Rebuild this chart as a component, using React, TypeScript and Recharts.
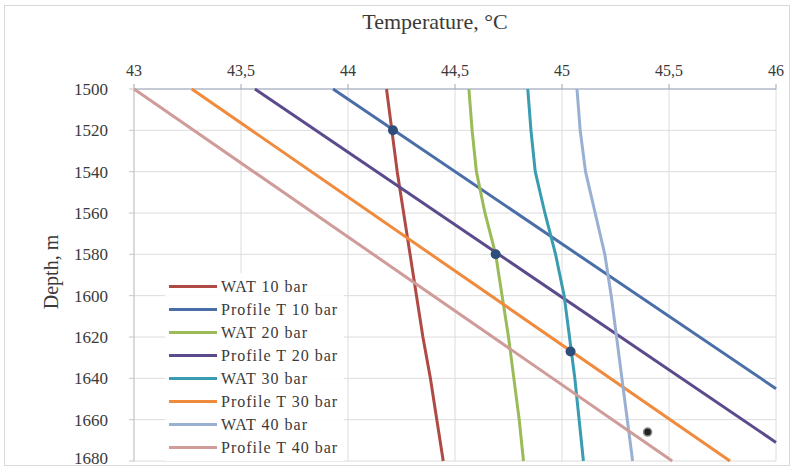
import { ScatterChart, Scatter, XAxis, YAxis, CartesianGrid, Legend } from 'recharts'

// depth grid for the WAT curves (m)
const depths = [1500, 1520, 1540, 1560, 1580, 1600, 1620, 1640, 1660, 1680]

// wax appearance temperature by depth, °C
const wat10 = [44.18, 44.205, 44.23, 44.26, 44.29, 44.32, 44.35, 44.385, 44.415, 44.445]
const wat20 = [44.565, 44.58, 44.6, 44.64, 44.69, 44.72, 44.75, 44.775, 44.8, 44.82]
const wat30 = [44.84, 44.855, 44.875, 44.92, 44.97, 45.01, 45.035, 45.06, 45.08, 45.1]
const wat40 = [45.07, 45.085, 45.11, 45.155, 45.2, 45.23, 45.255, 45.28, 45.305, 45.33]

// temperature profiles (straight lines: start and end where they leave the plot)
const profile10Depth = [1500, 1645]
const profile10T = [43.93, 46]
const profile20Depth = [1500, 1671]
const profile20T = [43.565, 46]
const profile30Depth = [1500, 1680]
const profile30T = [43.27, 45.785]
const profile40Depth = [1500, 1680]
const profile40T = [43.0, 45.515]

// intersection markers
const markerT = [44.21, 44.69, 45.04]
const markerDepth = [1520, 1580, 1627]
const loneMarkerT = [45.4]
const loneMarkerDepth = [1666]

const tempTicks = [43, 43.5, 44, 44.5, 45, 45.5, 46]
const depthTicks = [1500, 1520, 1540, 1560, 1580, 1600, 1620, 1640, 1660, 1680]

const toPoints = (d: number[], t: number[]) => d.map((depth, i) => ({ d: depth, t: t[i] }))

const series = [
  { name: 'WAT 10 bar', color: '#b04a45', data: toPoints(depths, wat10) },
  { name: 'Profile T 10 bar', color: '#4a6ea8', data: toPoints(profile10Depth, profile10T) },
  { name: 'WAT 20 bar', color: '#9bbb59', data: toPoints(depths, wat20) },
  { name: 'Profile T 20 bar', color: '#5c4b8c', data: toPoints(profile20Depth, profile20T) },
  { name: 'WAT 30 bar', color: '#3a9cb0', data: toPoints(depths, wat30) },
  { name: 'Profile T 30 bar', color: '#f08a3c', data: toPoints(profile30Depth, profile30T) },
  { name: 'WAT 40 bar', color: '#9ab0d2', data: toPoints(depths, wat40) },
  { name: 'Profile T 40 bar', color: '#cf9c9a', data: toPoints(profile40Depth, profile40T) },
]

// a quoted family list fell back to sans here, so keep it to one name
const font = 'Liberation Serif'
const textColor = '#3a3a3a'

function LegendBox() {
  return (
    <div style={{ background: 'rgba(255,255,255,0.9)', padding: '2px 6px 2px 4px', fontFamily: font }}>
      {series.map((s) => (
        <div key={s.name} style={{ display: 'flex', alignItems: 'center', height: 23 }}>
          <div style={{ width: 48, height: 3, background: s.color, marginRight: 4 }} />
          <span style={{ fontSize: 16, color: textColor, fontFamily: font, letterSpacing: 1 }}>{s.name}</span>
        </div>
      ))}
    </div>
  )
}

export default function App() {
  return (
    <div style={{ position: 'absolute', left: 0, top: 0, width: 794, height: 468, background: '#fff', fontFamily: font }}>
      <div
        style={{
          position: 'absolute',
          left: 4,
          top: 5,
          width: 784,
          height: 459,
          border: '1px solid #d9d9d9',
        }}
      />
      <ScatterChart width={794} height={468} margin={{ top: 0, right: 18, bottom: 7, left: 45 }}>
        <CartesianGrid stroke="#dcdcdc" verticalValues={tempTicks} horizontalValues={depthTicks} />
        <XAxis
          type="number"
          dataKey="t"
          orientation="top"
          height={89}
          domain={[43, 46]}
          ticks={tempTicks}
          tickFormatter={(v: number) => String(v).replace('.', ',')}
          tick={{ fontSize: 16, fill: textColor, fontFamily: font }}
          tickSize={5}
          tickMargin={8}
          stroke="#9aa8bf"
          label={{
            content: () => (
              <text x={435} y={29} textAnchor="middle" fontFamily={font} fontSize={22} fill={textColor}>
                Temperature, °C
              </text>
            ),
          }}
        />
        <YAxis
          type="number"
          dataKey="d"
          reversed
          width={89}
          domain={[1500, 1680]}
          ticks={depthTicks}
          tick={{ fontSize: 17, fill: textColor, fontFamily: font }}
          tickSize={5}
          tickMargin={21}
          stroke="#c8c8c8"
          label={{
            content: () => (
              <text
                x={53}
                y={272}
                transform="rotate(-90 53 272)"
                textAnchor="middle"
                dominantBaseline="middle"
                fontFamily={font}
                fontSize={20}
                fill={textColor}
              >
                Depth, m
              </text>
            ),
          }}
        />
        {series.map((s) => (
          <Scatter
            key={s.name}
            name={s.name}
            data={s.data}
            line={{ stroke: s.color, strokeWidth: 3 }}
            lineType="joint"
            shape={() => <g />}
            legendType="line"
            isAnimationActive={false}
          />
        ))}
        <Scatter
          name="markers"
          data={toPoints(markerDepth, markerT)}
          shape={(p: any) => <circle cx={p.cx} cy={p.cy} r={5} fill="#2f4d7a" />}
          legendType="none"
          isAnimationActive={false}
        />
        <Scatter
          name="lone marker"
          data={toPoints(loneMarkerDepth, loneMarkerT)}
          shape={(p: any) => <circle cx={p.cx} cy={p.cy} r={4} fill="#222" stroke="#888" strokeWidth={1.5} />}
          legendType="none"
          isAnimationActive={false}
        />
        <Legend
          layout="horizontal"
          align="center"
          verticalAlign="middle"
          wrapperStyle={{ left: 165, top: 273, width: 'auto' }}
          content={() => <LegendBox />}
        />
      </ScatterChart>
    </div>
  )
}
